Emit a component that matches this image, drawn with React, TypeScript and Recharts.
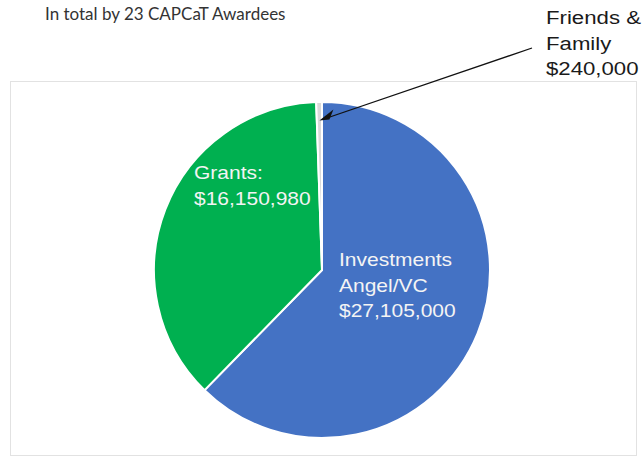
import { PieChart, Pie, Cell } from "recharts";

const names = ["Investments Angel/VC", "Grants", "Friends & Family"];
const values = [27105000, 16150980, 240000];
const colors = ["#4472C4", "#00B050", "#D9D9D9"];
const labelLines = [
  ["Investments", "Angel/VC", "$27,105,000"],
  ["Grants:", "$16,150,980"],
  ["Friends &", "Family", "$240,000"],
];
const title = "In total by 23 CAPCaT Awardees";

const data = names.map((name, i) => ({ name, value: values[i] }));

const RAD = Math.PI / 180;

function renderLabel(props: any) {
  const { cx, cy, midAngle, outerRadius, index } = props;
  const lines = labelLines[index];
  const textStyle = { fontFamily: "Liberation Sans, Arial, sans-serif" };
  if (index === 2) {
    // callout outside the pie, arrow points at the thin slice
    const tipR = outerRadius * 0.89;
    const tx = cx + tipR * Math.cos(-midAngle * RAD);
    const ty = cy + tipR * Math.sin(-midAngle * RAD);
    const lx = cx + 224;
    const ly = cy - 246;
    return (
      <g>
        <line x1={lx - 14} y1={ly + 24} x2={tx + 6} y2={ty - 2} stroke="#111" strokeWidth={1.3} />
        <polygon
          points={`${tx},${ty} ${tx + 14},${ty - 11} ${tx + 10},${ty - 1}`}
          fill="#111"
        />
        {lines.map((t, i) => (
          <text
            key={t}
            transform={`translate(${lx},${ly + i * 25.5}) scale(1.2,1)`}
            fontSize={18.5}
            fill="#1a1a1a"
            style={textStyle}
          >
            {t}
          </text>
        ))}
      </g>
    );
  }
  const ox = index === 0 ? cx + 17 : cx - 128;
  const oy = index === 0 ? cy - 4 : cy - 91;
  return (
    <g>
      {lines.map((t, i) => (
        <text
          key={t}
          transform={`translate(${ox},${oy + i * 25.5}) scale(1.2,1)`}
          fontSize={17.5}
          fill="#F4F4F4"
          style={textStyle}
        >
          {t}
        </text>
      ))}
    </g>
  );
}

export default function App() {
  return (
    <div style={{ position: "absolute", left: 0, top: 0, width: 643, height: 458, background: "#fff" }}>
      <div
        style={{
          position: "absolute",
          left: 45,
          top: 3,
          fontFamily: "Lato, sans-serif",
          fontSize: 17,
          color: "#333",
          whiteSpace: "nowrap",
        }}
      >
        {title}
      </div>
      <div
        style={{
          position: "absolute",
          left: 10,
          top: 81,
          width: 625,
          height: 373,
          border: "1.5px solid #e2e2e2",
        }}
      />
      <div style={{ position: "absolute", left: 0, top: 0 }}>
        <PieChart width={643} height={458} margin={{ top: 0, right: 0, bottom: 0, left: 0 }}>
          <Pie
            data={data}
            dataKey="value"
            cx={322}
            cy={270}
            outerRadius={168}
            startAngle={90}
            endAngle={-270}
            stroke="#fff"
            strokeWidth={2}
            label={renderLabel}
            labelLine={false}
            isAnimationActive={false}
          >
            {data.map((d, i) => (
              <Cell key={d.name} fill={colors[i]} />
            ))}
          </Pie>
        </PieChart>
      </div>
    </div>
  );
}
